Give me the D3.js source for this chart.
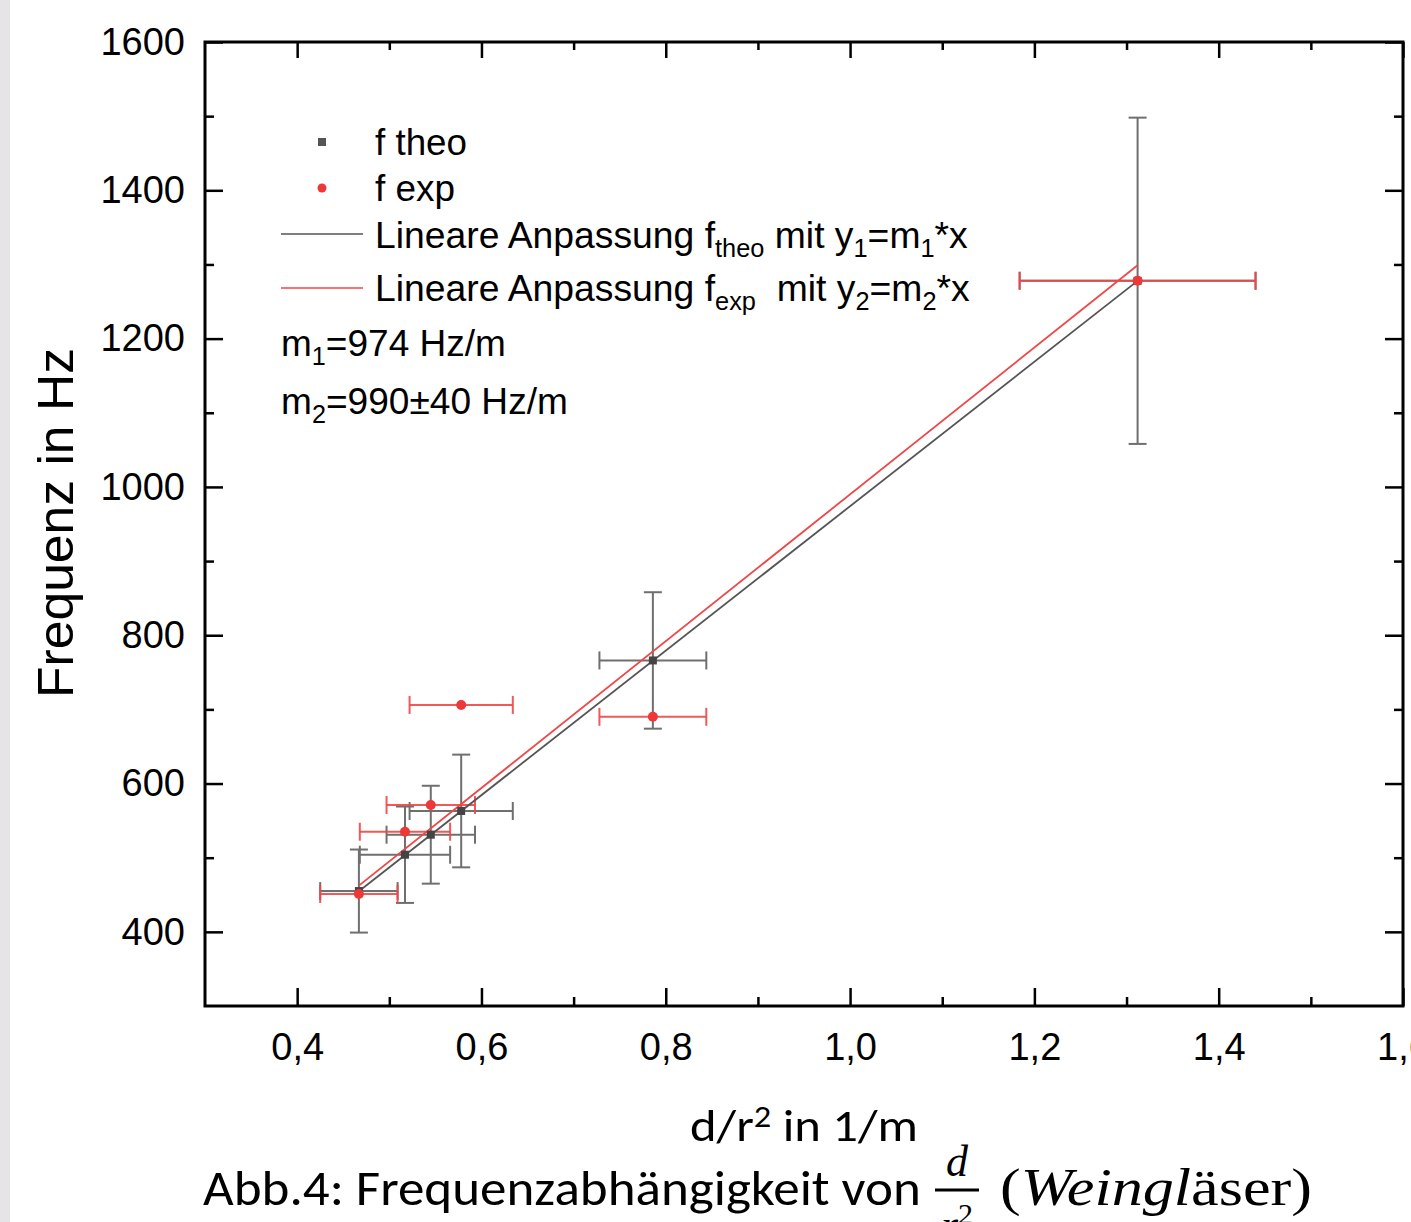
<!DOCTYPE html>
<html>
<head>
<meta charset="utf-8">
<script src="https://cdn.jsdelivr.net/npm/d3@7"></script>
<style>
  html, body { margin: 0; padding: 0; background: #fff; }
  svg { display: block; }
  text { white-space: pre; }
</style>
</head>
<body>
<div id="chart"></div>
<script>
// d/r^2 in 1/m
const xValues = [0.467, 0.517, 0.545, 0.578, 0.786, 1.312];
const xErrors = [0.042, 0.049, 0.048, 0.056, 0.058, 0.128];
// f theo in Hz (with error)
const fTheo = [455, 504, 531, 563, 766, 1278];
const fTheoErr = [56, 65, 66, 76, 92, 220];
// f exp in Hz
const fExp = [451, 535, 571, 706, 690, 1278];
// fitted slopes (Hz/m)
const m1 = 974;
const m2 = 990;

const xMajor = [0.4, 0.6, 0.8, 1.0, 1.2, 1.4, 1.6];
const xMinor = [0.5, 0.7, 0.9, 1.1, 1.3, 1.5];
const yMajor = [400, 600, 800, 1000, 1200, 1400, 1600];
const yMinor = [500, 700, 900, 1100, 1300, 1500];

const W = 1411, H = 1222;
const frame = { left: 205, right: 1403, top: 42, bottom: 1006 };
const grey = '#6f6f6f', red = '#f04646';
const sans = '"Liberation Sans", Arial, sans-serif';

const svg = d3.select('#chart').append('svg')
  .attr('width', W).attr('height', H);

svg.append('rect').attr('width', W).attr('height', H).attr('fill', '#fff');
svg.append('rect').attr('width', 10).attr('height', H).attr('fill', '#e6e4e7');

const x = d3.scaleLinear([0.3, 1.6], [frame.left, frame.right]);
const y = d3.scaleLinear([300, 1600], [frame.bottom, frame.top]);

const fmtX = d => d3.format('.1f')(d).replace('.', ',');

// scale a text element horizontally so that it spans a given width
function fitWidth(sel, x0, width) {
  const w = sel.node().getComputedTextLength();
  const s = width / w;
  sel.attr('transform', `translate(${x0},0) scale(${s},1) translate(${-x0},0)`);
}

// axes (ticks pointing inward)
function styleAxis(g) {
  g.select('.domain').remove();
  g.selectAll('line').attr('stroke', '#000').attr('stroke-width', 2.5);
  g.selectAll('text').attr('fill', '#000').attr('font-family', sans).attr('font-size', 38);
}

svg.append('g').attr('transform', `translate(0,${frame.bottom})`)
  .call(d3.axisBottom(x).tickValues(xMajor).tickSize(-18).tickPadding(27).tickFormat(fmtX))
  .call(styleAxis);
svg.append('g').attr('transform', `translate(0,${frame.bottom})`)
  .call(d3.axisBottom(x).tickValues(xMinor).tickSize(-9).tickFormat(''))
  .call(styleAxis);
svg.append('g').attr('transform', `translate(0,${frame.top})`)
  .call(d3.axisTop(x).tickValues(xMajor).tickSize(-16).tickFormat(''))
  .call(styleAxis);
svg.append('g').attr('transform', `translate(0,${frame.top})`)
  .call(d3.axisTop(x).tickValues(xMinor).tickSize(-8).tickFormat(''))
  .call(styleAxis);

svg.append('g').attr('transform', `translate(${frame.left},0)`)
  .call(d3.axisLeft(y).tickValues(yMajor).tickSize(-18).tickPadding(20).tickFormat(d3.format('d')))
  .call(styleAxis);
svg.append('g').attr('transform', `translate(${frame.left},0)`)
  .call(d3.axisLeft(y).tickValues(yMinor).tickSize(-9).tickFormat(''))
  .call(styleAxis);
svg.append('g').attr('transform', `translate(${frame.right},0)`)
  .call(d3.axisRight(y).tickValues(yMajor).tickSize(-18).tickFormat(''))
  .call(styleAxis);
svg.append('g').attr('transform', `translate(${frame.right},0)`)
  .call(d3.axisRight(y).tickValues(yMinor).tickSize(-9).tickFormat(''))
  .call(styleAxis);

svg.append('rect')
  .attr('x', frame.left).attr('y', frame.top)
  .attr('width', frame.right - frame.left).attr('height', frame.bottom - frame.top)
  .attr('fill', 'none').attr('stroke', '#000').attr('stroke-width', 3);

// data rows
const rows = xValues.map((v, i) => ({
  x: v, xe: xErrors[i], theo: fTheo[i], theoErr: fTheoErr[i], exp: fExp[i]
}));

const cap = 9;
const plot = svg.append('g');

// theo error bars (grey)
const gTheo = plot.append('g').attr('stroke', grey).attr('stroke-width', 2).attr('fill', 'none');
rows.forEach(d => {
  const cx = x(d.x), cy = y(d.theo);
  const y0 = y(d.theo - d.theoErr), y1 = y(d.theo + d.theoErr);
  const x0 = x(d.x - d.xe), x1 = x(d.x + d.xe);
  gTheo.append('line').attr('x1', cx).attr('x2', cx).attr('y1', y0).attr('y2', y1);
  gTheo.append('line').attr('x1', cx - cap).attr('x2', cx + cap).attr('y1', y0).attr('y2', y0);
  gTheo.append('line').attr('x1', cx - cap).attr('x2', cx + cap).attr('y1', y1).attr('y2', y1);
  gTheo.append('line').attr('x1', x0).attr('x2', x1).attr('y1', cy).attr('y2', cy);
  gTheo.append('line').attr('x1', x0).attr('x2', x0).attr('y1', cy - cap).attr('y2', cy + cap);
  gTheo.append('line').attr('x1', x1).attr('x2', x1).attr('y1', cy - cap).attr('y2', cy + cap);
});

// exp error bars (red, x only)
const gExp = plot.append('g').attr('stroke', red).attr('stroke-width', 2).attr('stroke-opacity', 0.9);
rows.forEach(d => {
  const cy = y(d.exp);
  const x0 = x(d.x - d.xe), x1 = x(d.x + d.xe);
  gExp.append('line').attr('x1', x0).attr('x2', x1).attr('y1', cy).attr('y2', cy);
  gExp.append('line').attr('x1', x0).attr('x2', x0).attr('y1', cy - cap).attr('y2', cy + cap);
  gExp.append('line').attr('x1', x1).attr('x2', x1).attr('y1', cy - cap).attr('y2', cy + cap);
});

// linear fits through the origin, drawn over the data range
const xr = d3.extent(xValues);
plot.append('line')
  .attr('x1', x(xr[0])).attr('y1', y(m1 * xr[0]))
  .attr('x2', x(xr[1])).attr('y2', y(m1 * xr[1]))
  .attr('stroke', '#555').attr('stroke-width', 1.8);
plot.append('line')
  .attr('x1', x(xr[0])).attr('y1', y(m2 * xr[0]))
  .attr('x2', x(xr[1])).attr('y2', y(m2 * xr[1]))
  .attr('stroke', red).attr('stroke-width', 1.8);

// markers
plot.selectAll('.theo').data(rows).join('rect')
  .attr('class', 'theo')
  .attr('x', d => x(d.x) - 4).attr('y', d => y(d.theo) - 4)
  .attr('width', 8).attr('height', 8).attr('fill', '#444');
plot.selectAll('.exp').data(rows).join('circle')
  .attr('class', 'exp')
  .attr('cx', d => x(d.x)).attr('cy', d => y(d.exp)).attr('r', 5)
  .attr('fill', '#ee3838');

// legend
const lg = svg.append('g').attr('font-family', sans).attr('font-size', 37).attr('fill', '#000');
lg.append('rect').attr('x', 318).attr('y', 138).attr('width', 8).attr('height', 8).attr('fill', '#555');
lg.append('circle').attr('cx', 322).attr('cy', 188).attr('r', 4.5).attr('fill', '#ee3838');
lg.append('line').attr('x1', 281).attr('x2', 363).attr('y1', 234).attr('y2', 234)
  .attr('stroke', '#555').attr('stroke-width', 1.5);
lg.append('line').attr('x1', 281).attr('x2', 363).attr('y1', 288).attr('y2', 288)
  .attr('stroke', red).attr('stroke-width', 1.5);

function richText(parent, x0, yb, parts) {
  const t = parent.append('text').attr('x', x0).attr('y', yb);
  let shift = 0;
  parts.forEach(p => {
    const target = p.sub ? 9 : p.sup ? -14 : 0;
    const ts = t.append('tspan').text(p.t).attr('dy', target - shift);
    if (p.sub || p.sup) ts.attr('font-size', '0.68em');
    shift = target;
  });
  return t;
}

fitWidth(lg.append('text').attr('x', 375).attr('y', 155).text('f theo'), 375, 92);
fitWidth(lg.append('text').attr('x', 375).attr('y', 201).text('f exp'), 375, 80);
fitWidth(richText(lg, 375, 248, [
  { t: 'Lineare Anpassung f' }, { t: 'theo', sub: true }, { t: ' mit y' }, { t: '1', sub: true },
  { t: '=m' }, { t: '1', sub: true }, { t: '*x' }
]), 375, 593);
fitWidth(richText(lg, 375, 301, [
  { t: 'Lineare Anpassung f' }, { t: 'exp', sub: true }, { t: '  mit y' }, { t: '2', sub: true },
  { t: '=m' }, { t: '2', sub: true }, { t: '*x' }
]), 375, 595);
fitWidth(richText(lg, 281, 356, [
  { t: 'm' }, { t: '1', sub: true }, { t: '=974 Hz/m' }
]), 281, 225);
fitWidth(richText(lg, 281, 414, [
  { t: 'm' }, { t: '2', sub: true }, { t: '=990\u00b140 Hz/m' }
]), 281, 287);

// axis titles
svg.append('text')
  .attr('transform', 'translate(73,523) rotate(-90)')
  .attr('text-anchor', 'middle')
  .attr('font-family', sans).attr('font-size', 50)
  .attr('textLength', 350).attr('lengthAdjust', 'spacingAndGlyphs')
  .text('Frequenz in Hz');

const calibri = 'Carlito, "Noto Sans", "Open Sans", sans-serif';
const xt = richText(svg.append('g').attr('font-family', calibri).attr('font-size', 46), 690, 1141, [
  { t: 'd/r' }, { t: '2', sup: true }, { t: ' in 1/m' }
]);
fitWidth(xt, 690, 228);

// caption
const cap1 = svg.append('text').attr('x', 203).attr('y', 1205)
  .attr('font-family', calibri).attr('font-size', 50)
  .text('Abb.4: Frequenzabhängigkeit von');
fitWidth(cap1, 203, 718);

const serif = '"Liberation Serif", "DejaVu Serif", serif';
svg.append('text').attr('x', 957).attr('y', 1176).attr('text-anchor', 'middle')
  .attr('font-family', serif).attr('font-style', 'italic').attr('font-size', 44).text('d');
svg.append('line').attr('x1', 935).attr('x2', 979).attr('y1', 1190).attr('y2', 1190)
  .attr('stroke', '#000').attr('stroke-width', 3);
const r2 = svg.append('text').attr('x', 957).attr('y', 1240).attr('text-anchor', 'middle')
  .attr('font-family', serif).attr('font-size', 44);
r2.append('tspan').attr('font-style', 'italic').text('r');
r2.append('tspan').attr('font-size', 30).attr('dy', -16).text('2');

const cap2 = svg.append('text').attr('x', 1000).attr('y', 1205)
  .attr('font-family', serif).attr('font-size', 52);
cap2.append('tspan').text('(');
cap2.append('tspan').attr('font-style', 'italic').text('Weingl');
cap2.append('tspan').text('äser)');
fitWidth(cap2, 1000, 312);
</script>
</body>
</html>
